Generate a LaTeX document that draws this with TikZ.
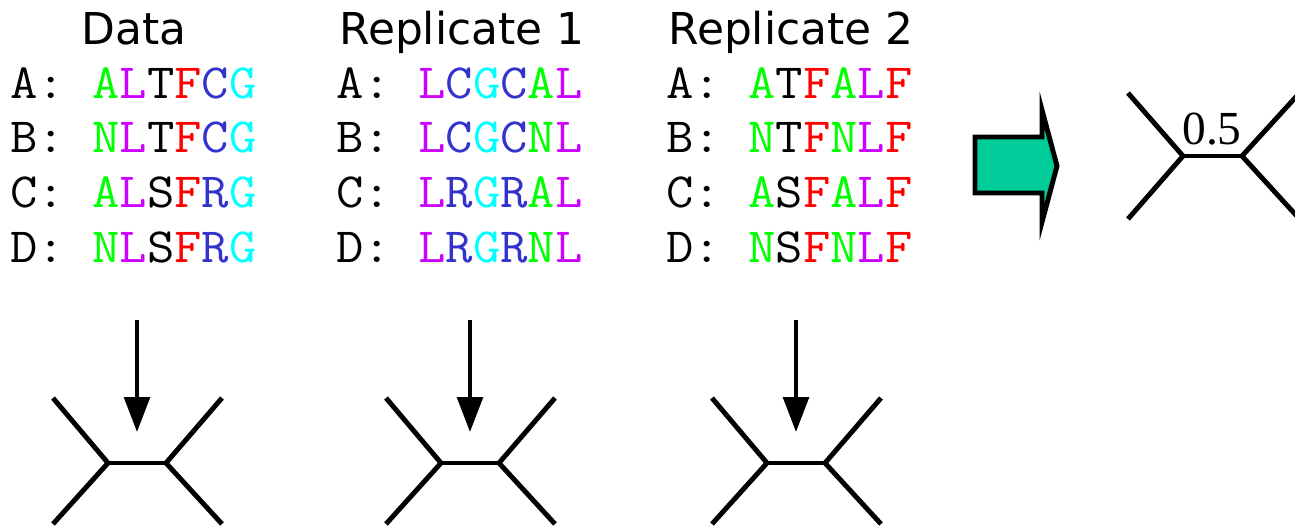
\documentclass[tikz,border=0pt]{standalone}
\usepackage{fontspec}
\usepackage{graphicx}
\setmainfont{Liberation Serif}
\newfontfamily\hdfont{DejaVu Sans}
\usetikzlibrary{arrows.meta}
\definecolor{cg}{RGB}{0,255,0}
\definecolor{cp}{RGB}{204,0,255}
\definecolor{cr}{RGB}{255,0,0}
\definecolor{cb}{RGB}{51,51,204}
\definecolor{cc}{RGB}{0,255,255}
\definecolor{teal}{RGB}{0,204,153}
\newcommand{\G}[1]{\textcolor{cg}{#1}}
\newcommand{\Pu}[1]{\textcolor{cp}{#1}}
\newcommand{\Rd}[1]{\textcolor{cr}{#1}}
\newcommand{\Bl}[1]{\textcolor{cb}{#1}}
\newcommand{\Cy}[1]{\textcolor{cc}{#1}}
\newcommand{\sx}[1]{\scalebox{1.08}[1]{#1}}
\tikzset{
  hdr/.style={anchor=base, inner sep=0pt, font=\hdfont\fontsize{25pt}{30pt}\selectfont},
  seq/.style={anchor=base west, inner sep=0pt, font=\ttfamily\fontsize{28pt}{32pt}\selectfont},
  edge/.style={line width=2.8pt, line cap=butt},
  down/.style={line width=2.3pt, -{Triangle[length=19.8pt,width=14.5pt]}},
  blockarrow/.style={draw=black, fill=teal, line width=2.8pt, line join=miter}
}
\begin{document}
\begin{tikzpicture}[x=0.02cm, y=-0.02cm]
\useasboundingbox (0,0) rectangle (1295,530);
% headers
\node[hdr] (h1) at (134,45) {Data};
\node[hdr] (h2) at (462,45) {Replicate 1};
\node[hdr] (h3) at (791,45) {Replicate 2};
% data rows
\node[seq] (d1) at (10,99)  {\sx{A: \G{A}\Pu{L}T\Rd{F}\Bl{C}\Cy{G}}};
\node[seq] (d2) at (10,153) {\sx{B: \G{N}\Pu{L}T\Rd{F}\Bl{C}\Cy{G}}};
\node[seq] (d3) at (10,208) {\sx{C: \G{A}\Pu{L}S\Rd{F}\Bl{R}\Cy{G}}};
\node[seq] (d4) at (10,263) {\sx{D: \G{N}\Pu{L}S\Rd{F}\Bl{R}\Cy{G}}};
% replicate 1
\node[seq] (r1) at (336,99)  {\sx{A: \Pu{L}\Bl{C}\Cy{G}\Bl{C}\G{A}\Pu{L}}};
\node[seq] (r2) at (336,153) {\sx{B: \Pu{L}\Bl{C}\Cy{G}\Bl{C}\G{N}\Pu{L}}};
\node[seq] (r3) at (336,208) {\sx{C: \Pu{L}\Bl{R}\Cy{G}\Bl{R}\G{A}\Pu{L}}};
\node[seq] (r4) at (336,263) {\sx{D: \Pu{L}\Bl{R}\Cy{G}\Bl{R}\G{N}\Pu{L}}};
% replicate 2
\node[seq] (s1) at (666,99)  {\sx{A: \G{A}T\Rd{F}\G{A}\Pu{L}\Rd{F}}};
\node[seq] (s2) at (666,153) {\sx{B: \G{N}T\Rd{F}\G{N}\Pu{L}\Rd{F}}};
\node[seq] (s3) at (666,208) {\sx{C: \G{A}S\Rd{F}\G{A}\Pu{L}\Rd{F}}};
\node[seq] (s4) at (666,263) {\sx{D: \G{N}S\Rd{F}\G{N}\Pu{L}\Rd{F}}};
% trees
\foreach \n/\dx in {t1/0, t2/333, t3/659}{
  \coordinate (\n L) at (108+\dx,463);
  \coordinate (\n R) at (166+\dx,463);
  \coordinate (\n a) at (53+\dx,398);
  \coordinate (\n b) at (53+\dx,524);
  \coordinate (\n c) at (222+\dx,398);
  \coordinate (\n d) at (222+\dx,524);
  \draw[edge] (\n a) -- (\n L) -- (\n b);
  \draw[edge] (\n c) -- (\n R) -- (\n d);
  \draw[edge] (\n L) -- (\n R);
  \coordinate (\n top) at (137+\dx,320);
  \coordinate (\n tip) at (137+\dx,432);
  \draw[down] (\n top) -- (\n tip);
}
% block arrow
\draw[blockarrow] (975,137) -- (1042,137) -- (1042,110) -- (1057,166) -- (1042,222) -- (1042,193) -- (975,193) -- cycle;
% consensus tree
\coordinate (cL) at (1183,156);
\coordinate (cR) at (1242,156);
\coordinate (ca) at (1128,93);
\coordinate (cb) at (1128,219);
\coordinate (cc) at (1305,87);
\coordinate (cd) at (1305,225);
\draw[edge] (ca) -- (cL) -- (cb);
\draw[edge] (cL) -- (cR);
\draw[edge] (cc) -- (cR) -- (cd);
\node[anchor=base, inner sep=0pt, font=\fontsize{27pt}{30pt}\selectfont] (lab) at (1212,145) {0.5};
\end{tikzpicture}
\end{document}
